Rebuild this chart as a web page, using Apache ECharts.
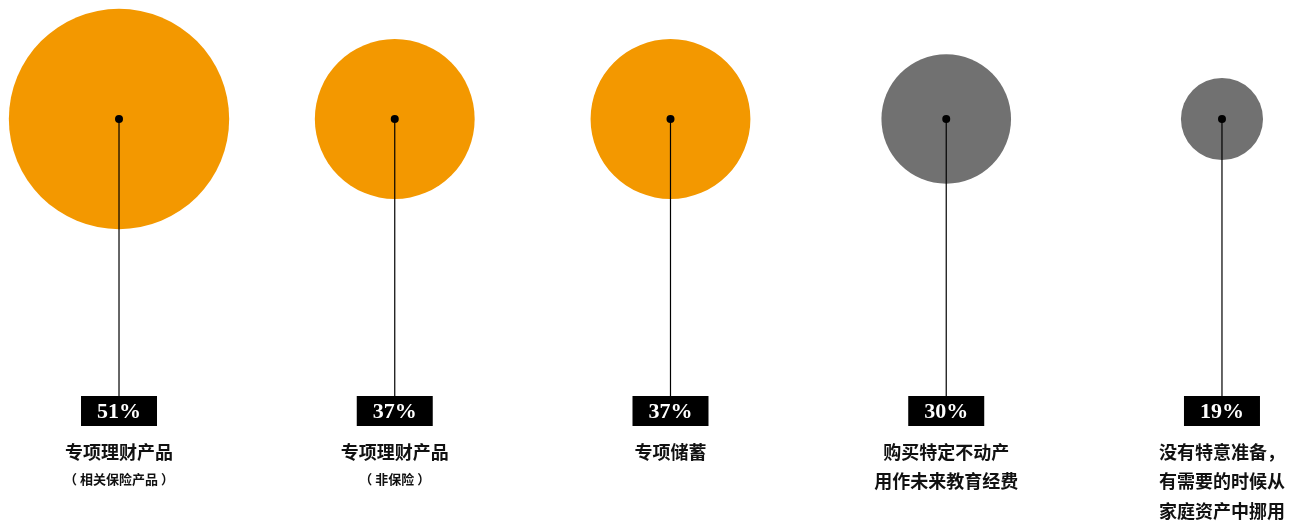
<!DOCTYPE html>
<html><head><meta charset="utf-8">
<script src="https://cdn.jsdelivr.net/npm/echarts@6/dist/echarts.min.js"></script>
<style>html,body{margin:0;padding:0;background:#fff}#c{width:1290px;height:521px}</style>
</head><body><div id="c"></div>
<script>
const categories = ['专项理财产品', '专项理财产品', '专项储蓄', '购买特定不动产\n用作未来教育经费', '没有特意准备，\n有需要的时候从\n家庭资产中挪用'];
const subLabels = ['（ 相关保险产品 ）', '（ 非保险 ）', '', '', ''];
const values = [51, 37, 37, 30, 19];
const highlight = [true, true, true, false, false];

const ORANGE = '#F39800', GRAY = '#717171';
const chart = echarts.init(document.getElementById('c'));
chart.setOption({
  animation: false,
  grid: {left: 0, right: 0, top: 0, height: 238},
  xAxis: {type: 'value', min: -0.4316, max: 4.2467, show: false},
  yAxis: {type: 'value', min: -1, max: 1, show: false},
  series: [{
    type: 'custom',
    data: values.map((v, i) => [i, 0, v]),
    renderItem: function (params, api) {
      const i = params.dataIndex;
      const v = api.value(2);
      const c = api.coord([api.value(0), api.value(1)]);
      const r = v * 2.16;
      const boxTop = 396, boxH = 30, boxW = 76;
      const children = [
        {type: 'circle', shape: {cx: c[0], cy: c[1], r: r}, style: {fill: highlight[i] ? ORANGE : GRAY}},
        {type: 'line', shape: {x1: c[0], y1: c[1], x2: c[0], y2: boxTop}, style: {stroke: '#000', lineWidth: 1.2}},
        {type: 'circle', shape: {cx: c[0], cy: c[1], r: 4}, style: {fill: '#000'}},
        {type: 'rect', shape: {x: c[0] - boxW / 2, y: boxTop, width: boxW, height: boxH}, style: {fill: '#000'}},
        {type: 'text', x: c[0], y: boxTop + boxH / 2 + 1, style: {text: v + '%', fill: '#fff', font: 'bold 22px "Liberation Serif", "DejaVu Serif", serif', align: 'center', verticalAlign: 'middle'}},
        {type: 'text', x: c[0], y: 437, style: {text: categories[i], fill: '#111', font: 'bold 18px "Noto Sans CJK SC", sans-serif', align: 'center', verticalAlign: 'top', lineHeight: 29.5}}
      ];
      if (subLabels[i]) {
        children.push({type: 'text', x: c[0], y: 479, style: {text: subLabels[i], fill: '#111', font: 'bold 13px "Noto Sans CJK SC", sans-serif', align: 'center', verticalAlign: 'middle'}});
      }
      return {type: 'group', children: children};
    }
  }]
});
</script></body></html>
